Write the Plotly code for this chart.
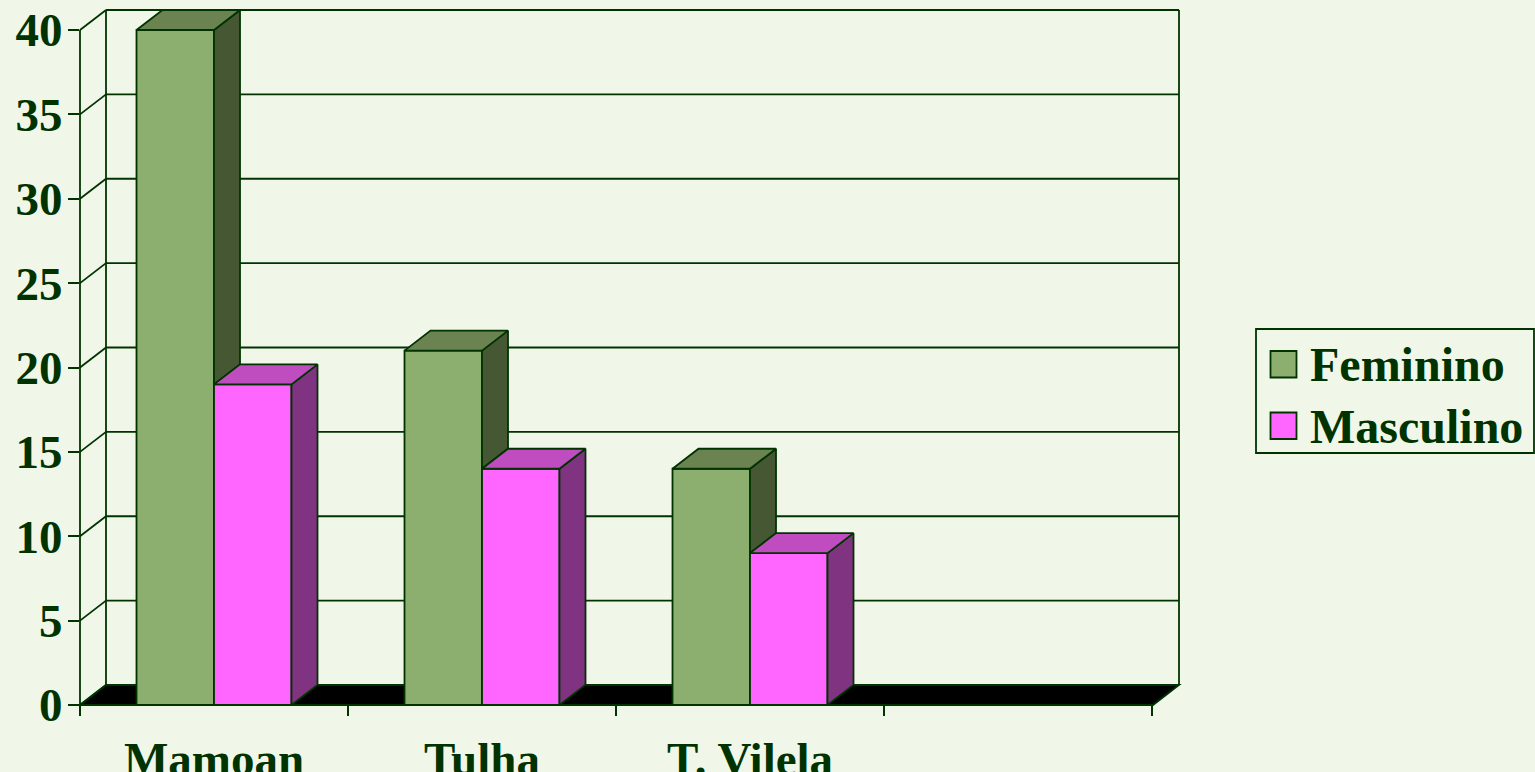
import plotly.graph_objects as go

categories = ["Mamoan", "Tulha", "T. Vilela", ""]
feminino = [40, 21, 14, None]
masculino = [19, 14, 9, None]
y_ticks = [0, 5, 10, 15, 20, 25, 30, 35, 40]

BG = "#F0F7E9"
INK = "#003300"
F_FRONT, F_TOP, F_SIDE = "#8CAE6E", "#6A8350", "#455733"
M_FRONT, M_TOP, M_SIDE = "#FF66FF", "#BF4DBF", "#803380"

# layout geometry (pixels of the page)
LEFT, RIGHT, TOP, BOTTOM = 80, 1179, 10, 705
SLOT_PX, UNIT_PX = 268.0, 16.875
XMAX = (RIGHT - LEFT) / SLOT_PX
YMAX = (BOTTOM - TOP) / UNIT_PX
DX, DY = 26 / SLOT_PX, 20 / UNIT_PX
BAR_W = 77.5 / SLOT_PX
LW = 1.8

centers = [i + 0.5 for i in range(len(categories))]


def xp(v):
    return v / XMAX


def yp(v):
    return v / YMAX


def line(x0, y0, x1, y1, layer="below", w=LW):
    return dict(type="line", xref="paper", yref="paper", x0=xp(x0), y0=yp(y0), x1=xp(x1), y1=yp(y1),
                layer=layer, line=dict(color=INK, width=w))


shapes = []
# floor
shapes.append(dict(type="path", xref="paper", yref="paper", layer="below",
                   path=f"M{xp(0)},{yp(0)} L{xp(DX)},{yp(DY)} L{xp(XMAX)},{yp(DY)} L{xp(XMAX - DX)},{yp(0)} Z",
                   fillcolor="#000000", line=dict(color=INK, width=LW)))
# back wall gridlines and side wall diagonals
for v in y_ticks:
    shapes.append(line(DX, v + DY, XMAX, v + DY))
    shapes.append(line(0, v, DX, v + DY))
shapes.append(line(DX, DY, DX, y_ticks[-1] + DY))
shapes.append(line(XMAX, DY, XMAX, y_ticks[-1] + DY))
# axis lines
shapes.append(line(0, 0, 0, y_ticks[-1]))
shapes.append(line(0, 0, XMAX - DX, 0, layer="above"))

fig = go.Figure()
fig.add_bar(x=centers, y=feminino, name="Feminino", marker=dict(color=F_FRONT, line=dict(color=INK, width=LW)))
fig.add_bar(x=centers, y=masculino, name="Masculino", marker=dict(color=M_FRONT, line=dict(color=INK, width=LW)))


def poly(xs, ys, color, name):
    fig.add_scatter(x=xs, y=ys, mode="lines", fill="toself", fillcolor=color, name=name,
                    line=dict(color=INK, width=LW), showlegend=False, hoverinfo="skip", cliponaxis=False)


for c, f, m in zip(centers, feminino, masculino):
    if f is None:
        continue
    # feminine bar: side (down to the masculine top) then top
    poly([c, c + DX, c + DX, c, c], [f, f + DY, m + DY, m, f], F_SIDE, "Feminino side")
    poly([c - BAR_W, c - BAR_W + DX, c + DX, c, c - BAR_W], [f, f + DY, f + DY, f, f], F_TOP, "Feminino top")
    # masculine bar
    poly([c + BAR_W, c + BAR_W + DX, c + BAR_W + DX, c + BAR_W, c + BAR_W], [m, m + DY, DY, 0, m], M_SIDE, "Masculino side")
    poly([c, c + DX, c + BAR_W + DX, c + BAR_W, c], [m, m + DY, m + DY, m, m], M_TOP, "Masculino top")

# legend
LEG_L, LEG_R, LEG_T, LEG_B = 1256, 1534, 329, 453


def px_x(p):
    return (p - LEFT) / (RIGHT - LEFT)


def px_y(p):
    return (BOTTOM - p) / (BOTTOM - TOP)


def rect(x0, y0, x1, y1, fill):
    shapes.append(dict(type="rect", xref="paper", yref="paper", x0=px_x(x0), x1=px_x(x1), y0=px_y(y0), y1=px_y(y1),
                       fillcolor=fill, line=dict(color=INK, width=LW)))


rect(LEG_L, LEG_T, LEG_R, LEG_B, BG)
rect(1270.5, 351, 1296.5, 377.5, F_FRONT)
rect(1270.5, 412.5, 1296.5, 439, M_FRONT)
annotations = [
    dict(text=t, xref="paper", yref="paper", x=px_x(1308), y=px_y(py), xanchor="left", yanchor="middle",
         showarrow=False, font=dict(family="Liberation Serif", size=48, color=INK), align="left")
    for t, py in (("<b>Feminino</b>", 364), ("<b>Masculino</b>", 426))
]

fig.update_layout(
    width=1535, height=772, autosize=False,
    margin=dict(l=LEFT, r=1535 - RIGHT, t=TOP, b=772 - BOTTOM, pad=0, autoexpand=False),
    paper_bgcolor=BG, plot_bgcolor=BG,
    barmode="group", bargap=1 - 2 * BAR_W, bargroupgap=0,
    showlegend=False,
    shapes=shapes, annotations=annotations,
    font=dict(family="Liberation Serif", color=INK),
    xaxis=dict(range=[0, XMAX], tickvals=centers, ticktext=[f"<b>{c}</b>" for c in categories], ticks="",
               showgrid=False, zeroline=False, showline=False, ticklabelstandoff=22, automargin=False,
               tickfont=dict(size=47, family="Liberation Serif", color=INK),
               minor=dict(tickvals=list(range(len(categories) + 1)), ticks="outside", ticklen=10,
                          tickwidth=LW, tickcolor=INK, showgrid=False)),
    yaxis=dict(range=[0, YMAX], tickvals=y_ticks, ticktext=[f"<b>{v}</b>" for v in y_ticks], ticks="outside",
               ticklen=11, tickwidth=LW, tickcolor=INK, showgrid=False, zeroline=False, showline=False,
               automargin=False, ticklabelstandoff=-4,
               tickfont=dict(size=47, family="Liberation Serif", color=INK)),
)

fig.write_html("out.html", config=dict(displayModeBar=False),
               post_script="document.body.style.margin='0';document.body.style.overflow='hidden';")
